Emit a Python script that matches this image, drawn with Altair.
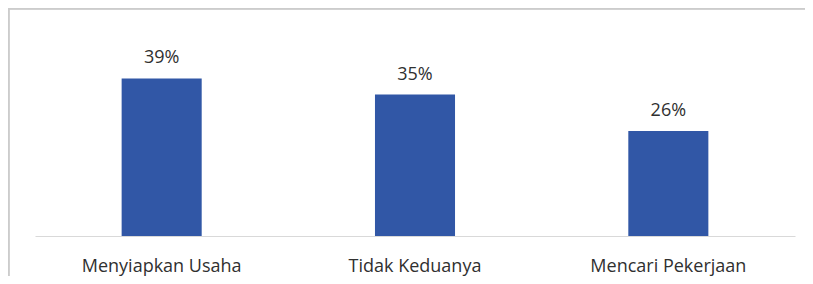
import altair as alt
import pandas as pd

categories = ["Menyiapkan Usaha", "Tidak Keduanya", "Mencari Pekerjaan"]
values = [0.39, 0.35, 0.26]
labels = ["39%", "35%", "26%"]

df = pd.DataFrame({"kategori": categories, "nilai": values, "label": labels})

FONT = "Open Sans"
TEXT_COLOR = "#303030"
BAR_COLOR = "#3157a6"

x_enc = alt.X(
    "kategori:N",
    sort=None,
    title=None,
    scale=alt.Scale(paddingInner=0.684, paddingOuter=0.342),
    axis=alt.Axis(
        domainColor="#d9d9d9",
        domainWidth=1,
        ticks=False,
        labelAngle=0,
        labelFont=FONT,
        labelFontSize=18,
        labelColor=TEXT_COLOR,
        labelBaseline="alphabetic",
        labelPadding=35,
        grid=False,
    ),
)
y_enc = alt.Y(
    "nilai:Q",
    scale=alt.Scale(domain=[0, 0.5]),
    axis=None,
)

bars = alt.Chart(df).mark_bar(color=BAR_COLOR).encode(x=x_enc, y=y_enc)

text = alt.Chart(df).mark_text(
    font=FONT, fontSize=18, color=TEXT_COLOR, baseline="alphabetic", dy=-15
).encode(x=alt.X("kategori:N", sort=None), y="nilai:Q", text="label:N")

frame_top = alt.Chart(df).mark_rule(color="#cccccc", strokeWidth=2).encode(
    x=alt.value(-26.5), x2=alt.value(800), y=alt.value(-25.5)
)
frame_left = alt.Chart(df).mark_rule(color="#cccccc", strokeWidth=2).encode(
    x=alt.value(-26.5), y=alt.value(-25.5), y2=alt.value(260)
)

chart = (
    alt.layer(frame_top, frame_left, bars, text)
    .properties(
        width=760,
        height=202,
        autosize=alt.AutoSizeParams(type="none"),
        padding={"left": 27, "top": 26, "right": 10, "bottom": 40},
    )
    .configure_view(stroke=None)
)

chart.save("out.html", embed_options={"renderer": "svg", "actions": False})
